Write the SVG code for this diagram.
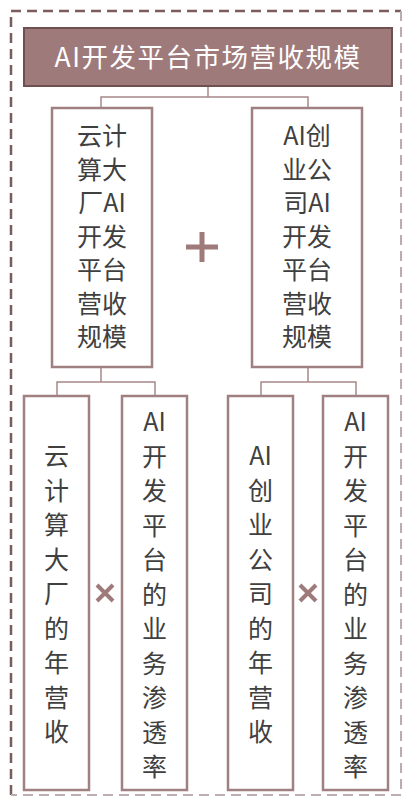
<svg xmlns="http://www.w3.org/2000/svg" width="403" height="796" viewBox="0 0 403 796">
<style>
.t{font-family:"Noto Sans CJK SC","Noto Sans",sans-serif;font-size:25px;fill:#404040;text-anchor:middle}
.box{fill:#fff;stroke:#a08080;stroke-width:2.5}
.ln{fill:none;stroke:#a88888;stroke-width:1.5}
.op{stroke:#9e7a7a;fill:none}
</style>
<rect width="403" height="796" fill="#fff"/>
<g id="frame">
<path d="M11,795 V11 H401" fill="none" stroke="#7b5d5d" stroke-width="2.5" stroke-dasharray="10,6"/>
<path d="M401,11 V795 H11" fill="none" stroke="#bcaeae" stroke-width="2" stroke-dasharray="10,6"/>
</g>
<g id="connectors">
<path class="ln" d="M208,86 V97 M101,108 V97 H308 V108"/>
<path class="ln" d="M101,367 V382 M57,396 V382 H155 V396"/>
<path class="ln" d="M308,367 V382 M261,396 V382 H356 V396"/>
</g>
<g id="title">
<rect x="24" y="28" width="368" height="58" fill="#9e7a7a" stroke="#6e5050" stroke-width="2"/>
<text x="208" y="67" class="t" style="fill:#fff;font-size:26.5px;letter-spacing:1.5px">AI开发平台市场营收规模</text>
</g>
<g id="n1">
<rect class="box" x="52" y="108" width="100" height="259"/>
<text class="t" x="102"><tspan x="102" y="145">云计</tspan><tspan x="102" y="178.5">算大</tspan><tspan x="102" y="212">厂AI</tspan><tspan x="102" y="245.5">开发</tspan><tspan x="102" y="279">平台</tspan><tspan x="102" y="312.5">营收</tspan><tspan x="102" y="346">规模</tspan></text>
</g>
<g id="n2">
<rect class="box" x="252" y="108" width="110" height="259"/>
<text class="t" x="307"><tspan x="307" y="145">AI创</tspan><tspan x="307" y="178.5">业公</tspan><tspan x="307" y="212">司AI</tspan><tspan x="307" y="245.5">开发</tspan><tspan x="307" y="279">平台</tspan><tspan x="307" y="312.5">营收</tspan><tspan x="307" y="346">规模</tspan></text>
</g>
<g id="plus">
<path class="op" stroke-width="5" d="M186,247 H218 M202,232 V262"/>
</g>
<g id="n3">
<rect class="box" x="24" y="396" width="65" height="394"/>
<text class="t"><tspan x="56.5" y="465">云</tspan><tspan x="56.5" y="499.5">计</tspan><tspan x="56.5" y="534">算</tspan><tspan x="56.5" y="568.5">大</tspan><tspan x="56.5" y="603">厂</tspan><tspan x="56.5" y="637.5">的</tspan><tspan x="56.5" y="672">年</tspan><tspan x="56.5" y="706.5">营</tspan><tspan x="56.5" y="741">收</tspan></text>
</g>
<g id="n4">
<rect class="box" x="122" y="396" width="65" height="394"/>
<text class="t"><tspan x="154.5" y="431">AI</tspan><tspan x="154.5" y="465.5">开</tspan><tspan x="154.5" y="500">发</tspan><tspan x="154.5" y="534.5">平</tspan><tspan x="154.5" y="569">台</tspan><tspan x="154.5" y="603.5">的</tspan><tspan x="154.5" y="638">业</tspan><tspan x="154.5" y="672.5">务</tspan><tspan x="154.5" y="707">渗</tspan><tspan x="154.5" y="741.5">透</tspan><tspan x="154.5" y="776">率</tspan></text>
</g>
<g id="n5">
<rect class="box" x="228" y="396" width="65" height="394"/>
<text class="t"><tspan x="260.5" y="465">AI</tspan><tspan x="260.5" y="499.5">创</tspan><tspan x="260.5" y="534">业</tspan><tspan x="260.5" y="568.5">公</tspan><tspan x="260.5" y="603">司</tspan><tspan x="260.5" y="637.5">的</tspan><tspan x="260.5" y="672">年</tspan><tspan x="260.5" y="706.5">营</tspan><tspan x="260.5" y="741">收</tspan></text>
</g>
<g id="n6">
<rect class="box" x="323" y="396" width="65" height="394"/>
<text class="t"><tspan x="355.5" y="431">AI</tspan><tspan x="355.5" y="465.5">开</tspan><tspan x="355.5" y="500">发</tspan><tspan x="355.5" y="534.5">平</tspan><tspan x="355.5" y="569">台</tspan><tspan x="355.5" y="603.5">的</tspan><tspan x="355.5" y="638">业</tspan><tspan x="355.5" y="672.5">务</tspan><tspan x="355.5" y="707">渗</tspan><tspan x="355.5" y="741.5">透</tspan><tspan x="355.5" y="776">率</tspan></text>
</g>
<g id="times">
<path class="op" stroke-width="4" d="M97,585 L113,601 M113,585 L97,601"/>
<path class="op" stroke-width="4" d="M300,585 L316,601 M316,585 L300,601"/>
</g>
</svg>
